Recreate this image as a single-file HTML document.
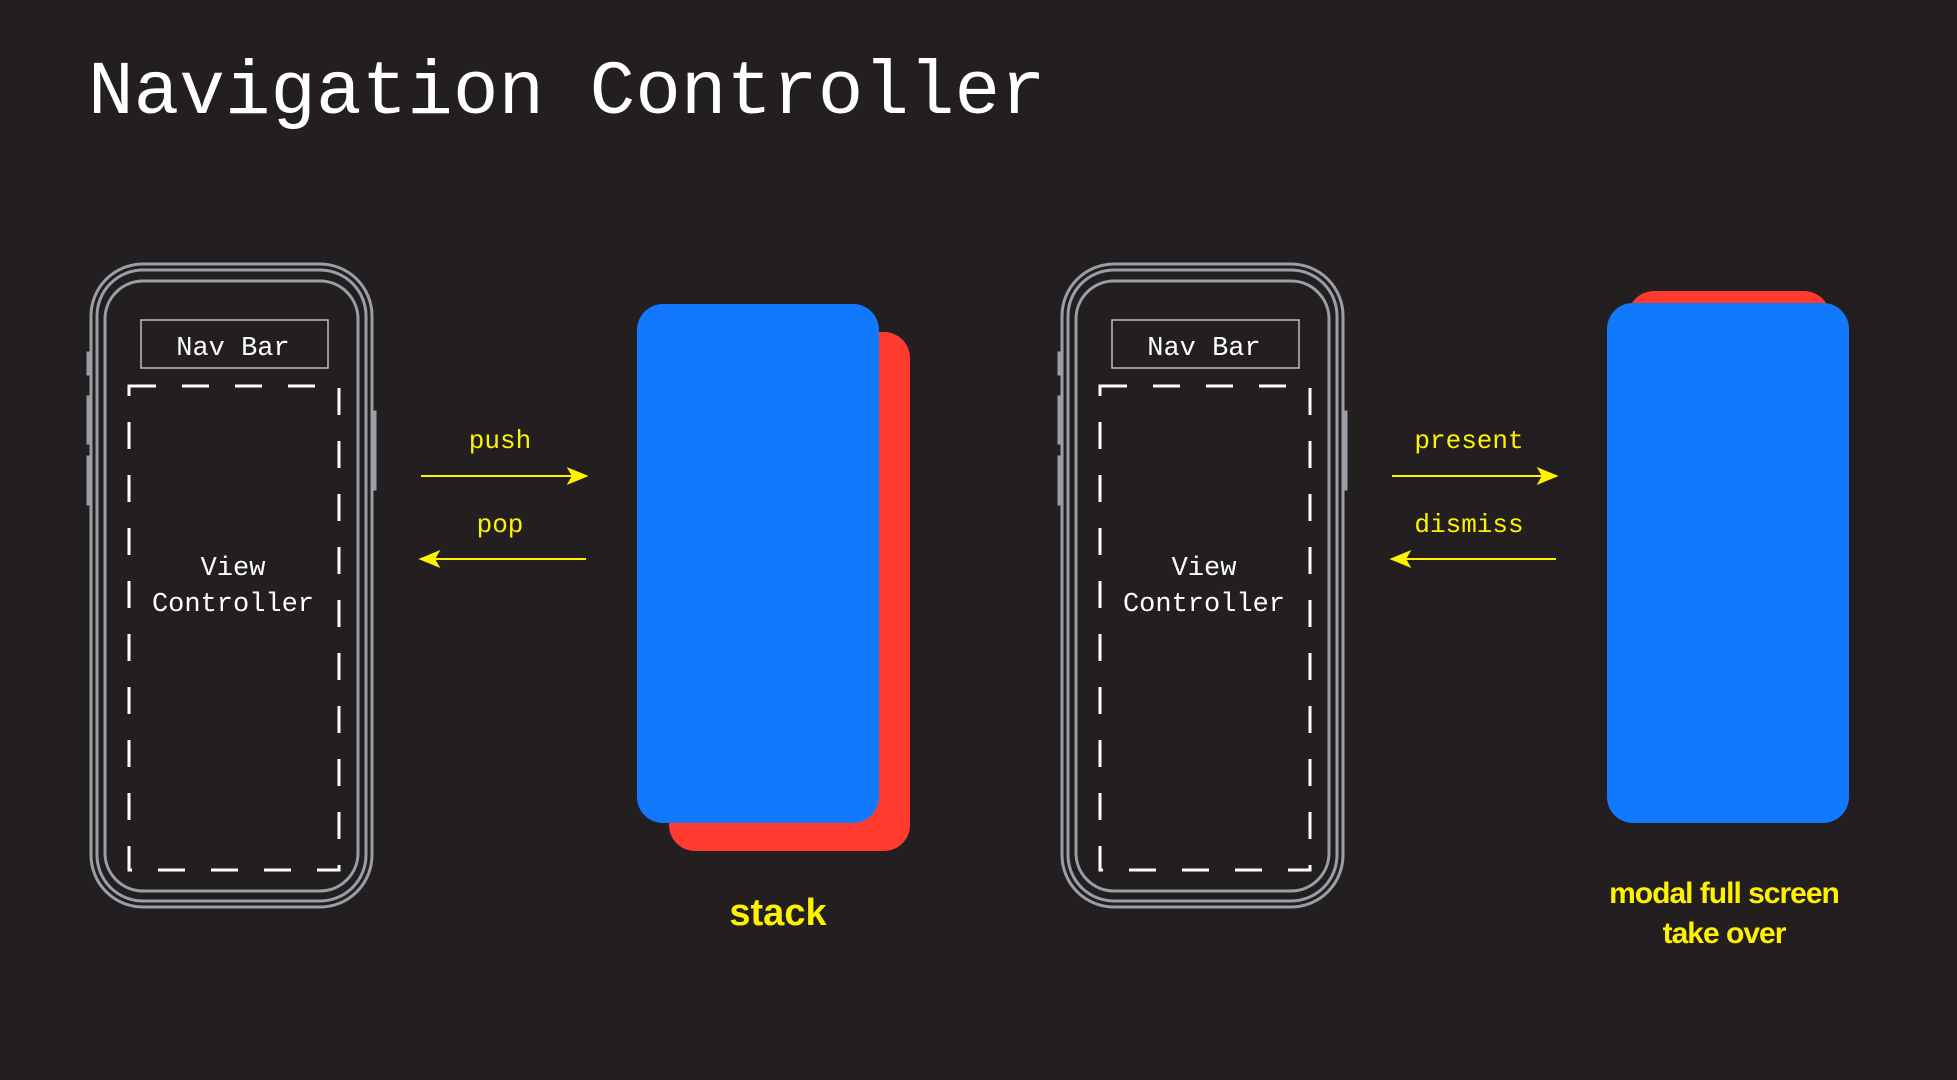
<!DOCTYPE html>
<html><head><meta charset="utf-8"><style>
html,body{margin:0;padding:0;background:#231f20;}
svg{display:block}
.mono{font-family:"Liberation Mono","DejaVu Sans Mono",monospace;}
.hand{font-family:"Liberation Sans",sans-serif;font-weight:bold;fill:#fff200;}
</style></head><body>
<svg width="1957" height="1080" viewBox="0 0 1957 1080" xmlns="http://www.w3.org/2000/svg">
<rect width="1957" height="1080" fill="#231f20"/>
<text x="88" y="113" class="mono" font-size="76" fill="#fff">Navigation Controller</text>
<defs>
<g id="phone">
  <g fill="none" stroke="#9a9ea6" stroke-width="3">
    <rect x="91" y="264" width="281" height="643" rx="52"/>
    <rect x="97" y="270" width="269" height="631" rx="46"/>
    <rect x="105" y="281" width="253" height="610" rx="38"/>
    <path d="M91 353 h-3 v21 h3 M91 397 h-3 v46 h3 M91 457 h-3 v47 h3 M372 412 h3 v77 h-3"/>
  </g>
  <rect x="141" y="320" width="187" height="48" fill="none" stroke="#bdbdbd" stroke-width="1.5"/>
  <text x="233" y="355" class="mono" font-size="27" fill="#fff" text-anchor="middle">Nav Bar</text>
  <rect x="129" y="386" width="210" height="484" fill="none" stroke="#fff" stroke-width="3" stroke-dasharray="27 26"/>
  <text x="233" y="575" class="mono" font-size="27" fill="#fff" text-anchor="middle">View</text>
  <text x="233" y="611" class="mono" font-size="27" fill="#fff" text-anchor="middle">Controller</text>
</g>
</defs>
<use href="#phone"/>
<use href="#phone" transform="translate(971,0)"/>

<g stroke="#fff200" stroke-width="2" fill="#fff200">
  <line x1="421" y1="476" x2="578" y2="476"/>
  <path d="M586 476 L569 469 L573 476 L569 483 Z"/>
  <line x1="429" y1="559" x2="586" y2="559"/>
  <path d="M421 559 L438 552 L434 559 L438 566 Z"/>
  <line x1="1392" y1="476" x2="1548" y2="476"/>
  <path d="M1556 476 L1539 469 L1543 476 L1539 483 Z"/>
  <line x1="1400" y1="559" x2="1556" y2="559"/>
  <path d="M1392 559 L1409 552 L1405 559 L1409 566 Z"/>
</g>
<g class="mono" font-size="26" fill="#fff200" text-anchor="middle">
  <text x="500" y="448">push</text>
  <text x="500" y="532">pop</text>
  <text x="1469" y="448">present</text>
  <text x="1469" y="532">dismiss</text>
</g>

<rect x="669" y="332" width="241" height="519" rx="26" fill="#ff3b30"/>
<rect x="637" y="304" width="242" height="519" rx="26" fill="#1279ff"/>
<text x="778" y="925" class="hand" font-size="38" text-anchor="middle">stack</text>

<rect x="1628" y="291" width="202" height="200" rx="26" fill="#ff3b30"/>
<rect x="1607" y="303" width="242" height="520" rx="26" fill="#1279ff"/>
<text x="1724" y="903" class="hand" font-size="30" text-anchor="middle" letter-spacing="-1">modal full screen</text>
<text x="1724" y="943" class="hand" font-size="30" text-anchor="middle" letter-spacing="-1">take over</text>
</svg>
</body></html>
